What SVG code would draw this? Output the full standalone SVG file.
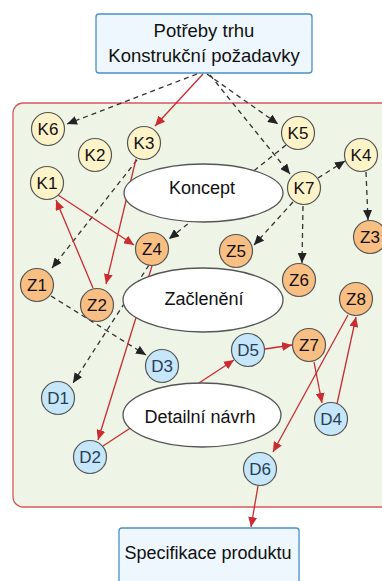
<svg xmlns="http://www.w3.org/2000/svg" width="382" height="581" viewBox="0 0 382 581">
  <defs>
    <marker id="ah-red" markerUnits="userSpaceOnUse" markerWidth="11" markerHeight="9" refX="10" refY="4.5" orient="auto">
      <path d="M0,0 L10,4.5 L0,9 z" fill="#cc2b30"/>
    </marker>
    <marker id="ah-dark" markerUnits="userSpaceOnUse" markerWidth="11" markerHeight="9" refX="10" refY="4.5" orient="auto">
      <path d="M0,0 L10,4.5 L0,9 z" fill="#222"/>
    </marker>
    <style>
      .box { fill: #eef7fe; stroke: #4a90c8; stroke-width: 1.3; }
      .area { fill: #eff5e6; stroke: #d9575b; stroke-width: 1.3; }
      .phase { fill: #ffffff; stroke: #555; stroke-width: 1.3; }
      .node { stroke: #555; stroke-width: 1.2; }
      .k { fill: #fdf3c9; }
      .z { fill: #f9be82; }
      .d { fill: #c6e6f9; }
      .lbl { font-family: "Liberation Sans", Arial, sans-serif; font-size: 17px; fill: #111; text-anchor: middle; }
      .d .lbl, text.dl { fill: #2b3d55; }
      .title { font-family: "Liberation Sans", Arial, sans-serif; fill: #111; text-anchor: middle; }
      .red { stroke: #cc2b30; stroke-width: 1.3; fill: none; marker-end: url(#ah-red); }
      .red-plain { stroke: #cc2b30; stroke-width: 1.3; fill: none; }
      .dash { stroke: #333; stroke-width: 1.3; stroke-dasharray: 5 4; fill: none; marker-end: url(#ah-dark); }
    </style>
  </defs>

  <!-- design space frame -->
  <rect class="area" x="13" y="103" width="400" height="404" rx="10"/>

  <!-- input / output boxes -->
  <g id="needs">
    <rect class="box" x="96" y="14" width="216" height="59" rx="3"/>
    <text class="title" x="204" y="37" font-size="18.5">Potřeby trhu</text>
    <text class="title" x="204" y="62" font-size="18.5">Konstrukční požadavky</text>
  </g>
  <g id="spec">
    <rect class="box" x="119" y="528" width="180" height="70" rx="3"/>
    <text class="title" x="208" y="559" font-size="18">Specifikace produktu</text>
  </g>

  <!-- connectors -->
  <g id="connectors">
    <line class="dash" x1="197" y1="74" x2="67" y2="124"/>
    <line class="red" x1="203" y1="74" x2="155" y2="126"/>
    <line class="dash" x1="207" y1="74" x2="278" y2="124"/>
    <line class="dash" x1="210" y1="75" x2="290" y2="174"/>
    <line class="dash" x1="318" y1="178" x2="345" y2="161"/>
    <line class="dash" x1="366" y1="172" x2="368" y2="220"/>
    <line class="dash" x1="293" y1="202" x2="254" y2="245"/>
    <line class="dash" x1="303" y1="206" x2="302" y2="263"/>
    <line class="dash" x1="286" y1="145" x2="169" y2="239"/>
    <line class="dash" x1="137" y1="160" x2="52" y2="268"/>
    <line class="red" x1="136" y1="159" x2="106" y2="284"/>
    <line class="red" x1="58" y1="195" x2="134" y2="245"/>
    <line class="red" x1="93" y1="288" x2="56" y2="200"/>
    <line class="dash" x1="51" y1="296" x2="146" y2="355"/>
    <line class="dash" x1="149" y1="265" x2="73" y2="383"/>
    <line class="red" x1="152" y1="266" x2="98" y2="440"/>
    <line class="red" x1="103" y1="446" x2="234" y2="360"/>
    <line class="red" x1="265" y1="349" x2="292" y2="345"/>
    <line class="red" x1="314" y1="362" x2="322" y2="403"/>
    <line class="red" x1="337" y1="404" x2="356" y2="317"/>
    <line class="red" x1="348" y1="315" x2="273" y2="452"/>
    <line class="red" x1="258" y1="486" x2="251" y2="527"/>
  </g>

  <!-- phases -->
  <g id="koncept">
    <ellipse class="phase" cx="203.5" cy="193" rx="79.5" ry="29"/>
    <text class="title" x="202" y="194" font-size="18">Koncept</text>
  </g>
  <g id="zacleneni">
    <ellipse class="phase" cx="203" cy="300" rx="80" ry="32"/>
    <text class="title" x="204" y="305" font-size="18">Začlenění</text>
  </g>
  <g id="detailni-navrh">
    <ellipse class="phase" cx="202" cy="415" rx="79" ry="32"/>
    <text class="title" x="200" y="423" font-size="18">Detailní návrh</text>
  </g>

  <!-- K nodes -->
  <g id="K6" class="k"><circle class="node" cx="48" cy="129" r="16.5"/><text class="lbl" x="48" y="135">K6</text></g>
  <g id="K2" class="k"><circle class="node" cx="95" cy="155" r="16.5"/><text class="lbl" x="95" y="161">K2</text></g>
  <g id="K3" class="k"><circle class="node" cx="144" cy="143" r="16.5"/><text class="lbl" x="144" y="149">K3</text></g>
  <g id="K5" class="k"><circle class="node" cx="298" cy="133" r="16.5"/><text class="lbl" x="298" y="139">K5</text></g>
  <g id="K4" class="k"><circle class="node" cx="361" cy="155" r="16.5"/><text class="lbl" x="361" y="161">K4</text></g>
  <g id="K1" class="k"><circle class="node" cx="47" cy="183" r="16.5"/><text class="lbl" x="47" y="189">K1</text></g>
  <g id="K7" class="k"><circle class="node" cx="304" cy="188" r="16.5"/><text class="lbl" x="304" y="194">K7</text></g>

  <!-- Z nodes -->
  <g id="Z4" class="z"><circle class="node" cx="152" cy="249" r="16.5"/><text class="lbl" x="152" y="255">Z4</text></g>
  <g id="Z5" class="z"><circle class="node" cx="236" cy="251" r="16.5"/><text class="lbl" x="236" y="257">Z5</text></g>
  <g id="Z6" class="z"><circle class="node" cx="299" cy="280" r="16.5"/><text class="lbl" x="299" y="286">Z6</text></g>
  <g id="Z3" class="z"><circle class="node" cx="370" cy="237" r="16.5"/><text class="lbl" x="370" y="243">Z3</text></g>
  <g id="Z1" class="z"><circle class="node" cx="37" cy="285" r="16.5"/><text class="lbl" x="37" y="291">Z1</text></g>
  <g id="Z2" class="z"><circle class="node" cx="97" cy="305" r="16.5"/><text class="lbl" x="97" y="311">Z2</text></g>
  <g id="Z8" class="z"><circle class="node" cx="356" cy="299" r="16.5"/><text class="lbl" x="356" y="305">Z8</text></g>
  <g id="Z7" class="z"><circle class="node" cx="309" cy="345" r="16.5"/><text class="lbl" x="309" y="351">Z7</text></g>

  <!-- D nodes -->
  <g id="D5" class="d"><circle class="node" cx="248" cy="350" r="16.5"/><text class="lbl" x="248" y="356">D5</text></g>
  <g id="D3" class="d"><circle class="node" cx="162" cy="366" r="16.5"/><text class="lbl" x="162" y="372">D3</text></g>
  <g id="D1" class="d"><circle class="node" cx="58" cy="398" r="16.5"/><text class="lbl" x="58" y="404">D1</text></g>
  <g id="D4" class="d"><circle class="node" cx="331" cy="419" r="16.5"/><text class="lbl" x="331" y="425">D4</text></g>
  <g id="D2" class="d"><circle class="node" cx="90" cy="457" r="16.5"/><text class="lbl" x="90" y="463">D2</text></g>
  <g id="D6" class="d"><circle class="node" cx="260" cy="469" r="16.5"/><text class="lbl" x="260" y="475">D6</text></g>
</svg>
